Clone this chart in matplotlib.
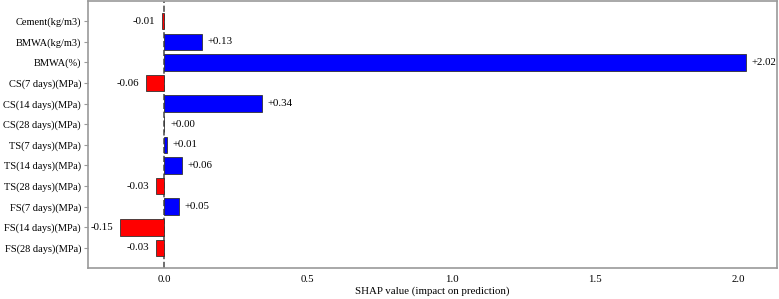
import matplotlib
matplotlib.use('Agg')
import matplotlib.pyplot as plt
import numpy as np

features = ['Cement(kg/m3)', 'BMWA(kg/m3)', 'BMWA(%)', 'CS(7 days)(MPa)',
            'CS(14 days)(MPa)', 'CS(28 days)(MPa)', 'TS(7 days)(MPa)',
            'TS(14 days)(MPa)', 'TS(28 days)(MPa)', 'FS(7 days)(MPa)',
            'FS(14 days)(MPa)', 'FS(28 days)(MPa)']
shap_vals = [-0.007, 0.133, 2.024, -0.063, 0.34, 0.001, 0.01,
             0.063, -0.028, 0.05, -0.153, -0.028]
xticks = [0.0, 0.5, 1.0, 1.5, 2.0]

plt.rcParams['font.family'] = ['Liberation Serif', 'DejaVu Serif']

fig = plt.figure(figsize=(7.79, 2.99), dpi=100)
ax = fig.add_axes([0.113, 0.104, 0.884, 0.892])

y = np.arange(len(features))
colors = ['blue' if v > 0 else 'red' for v in shap_vals]
ax.barh(y, shap_vals, height=0.8, color=colors, edgecolor='#333333', linewidth=0.6)
ax.axvline(0, color='#555555', lw=1.2, linestyle='--', zorder=0)

for yi, v in zip(y, shap_vals):
    if v >= 0:
        ax.annotate(f'{v:+.2f}', (v, yi), xytext=(4, 0), textcoords='offset points',
                    ha='left', va='center', fontsize=7.8)
    else:
        ax.annotate(f'{v:+.2f}', (v, yi), xytext=(-5, 0), textcoords='offset points',
                    ha='right', va='center', fontsize=7.8)

ax.set_yticks(y)
ax.set_yticklabels(features, fontsize=7.5)
ax.set_xticks(xticks)
ax.set_xticklabels([f'{t:.1f}' for t in xticks], fontsize=7.8)
ax.set_ylim(len(features) - 0.03, -0.97)
ax.set_xlim(-0.265, 2.132)
ax.set_xlabel('SHAP value (impact on prediction)', fontsize=7.8, labelpad=2)
ax.tick_params(axis='x', length=0, pad=5)
ax.tick_params(axis='y', length=3, color='#999999', pad=2)
for sp in ax.spines.values():
    sp.set_edgecolor('#999999')
    sp.set_linewidth(1.2)

plt.savefig('out.png', dpi=100)
